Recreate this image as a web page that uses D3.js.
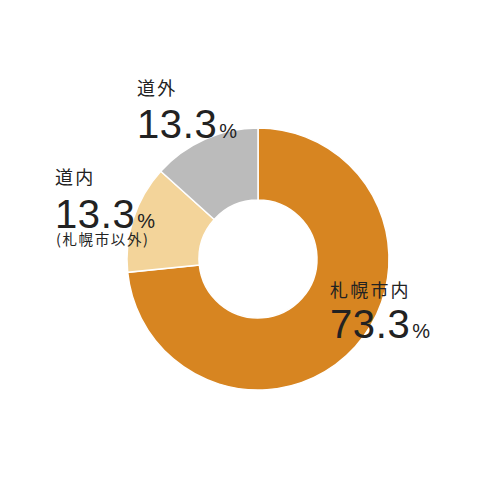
<!DOCTYPE html>
<html><head><meta charset="utf-8">
<script src="https://cdn.jsdelivr.net/npm/d3@7/dist/d3.min.js"></script>
<style>body{margin:0;background:#fff}</style>
</head><body>
<svg id="c" width="500" height="500"></svg>
<script>
const categories = ["札幌市内", "道内", "道外"];
const values = [73.3, 13.3, 13.3];
const valueLabels = ["73.3", "13.3", "13.3"];
const subLabels = ["", "(札幌市以外)", ""];
const colors = ["#D78521", "#F3D49A", "#BBBBBB"];

const svg = d3.select("#c");
const cx = 258, cy = 259, rOuter = 131, rInner = 59;
const g = svg.append("g").attr("transform", `translate(${cx},${cy})`);
const pie = d3.pie().sort(null).value(d => d)(values);
const arc = d3.arc().innerRadius(rInner).outerRadius(rOuter);
g.selectAll("path").data(pie).join("path")
  .attr("d", arc).attr("fill", (d, i) => colors[i])
  .attr("stroke", "#fff").attr("stroke-width", 1.5);

const labelPos = [
  {x: 330, y: 297, ny: 338},
  {x: 55, y: 184, ny: 228},
  {x: 137, y: 95, ny: 137.5}
];
const jp = "'Noto Sans CJK JP', sans-serif";
const num = "'Liberation Sans', Arial, sans-serif";
categories.forEach((c, i) => {
  const p = labelPos[i];
  svg.append("text").attr("x", p.x).attr("y", p.y)
    .attr("font-family", jp).attr("font-size", 18).attr("letter-spacing", 2.2)
    .attr("fill", "#222").text(c);
  const t = svg.append("text").attr("x", p.x).attr("y", p.ny)
    .attr("font-family", num).attr("fill", "#222");
  t.append("tspan").attr("font-size", 40).attr("letter-spacing", 0.6).text(valueLabels[i]);
  t.append("tspan").attr("font-size", 20).attr("dx", 2).text("%");
  if (subLabels[i]) {
    svg.append("text").attr("x", p.x + 1).attr("y", p.ny + 17)
      .attr("font-family", jp).attr("font-size", 14.5).attr("letter-spacing", 1.6)
      .attr("fill", "#222").text(subLabels[i]);
  }
});
</script>
</body></html>
